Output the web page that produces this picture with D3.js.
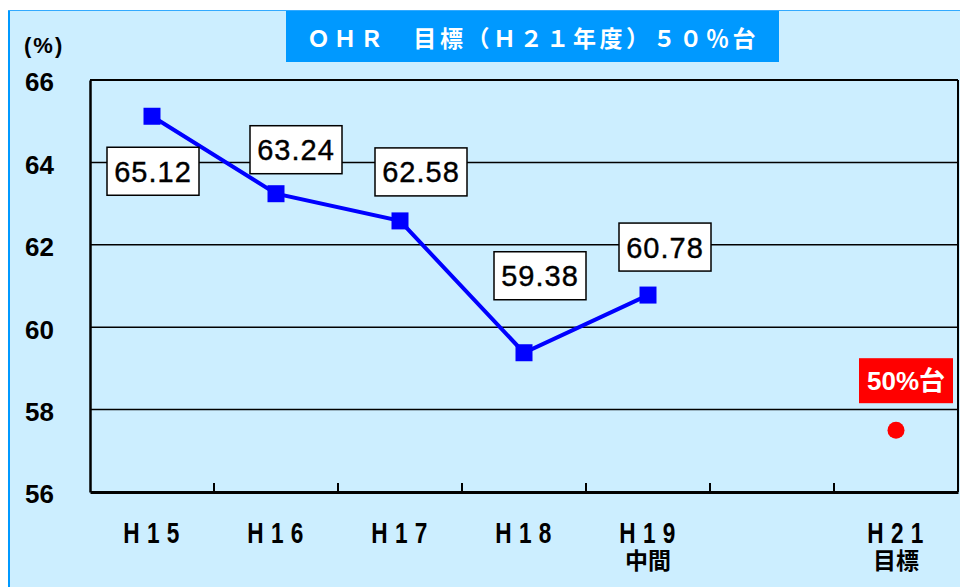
<!DOCTYPE html>
<html>
<head>
<meta charset="utf-8">
<script src="https://cdn.jsdelivr.net/npm/d3@7"></script>
<style>
  body { margin: 0; background: #fff; }
  svg { display: block; }
</style>
</head>
<body>
<div id="chart"></div>
<script>
// chart data
const categories = ['H15', 'H16', 'H17', 'H18', 'H19', 'H20', 'H21'];
const tickLabels = ['H15', 'H16', 'H17', 'H18', 'H19', '', 'H21'];
const subLabels = ['', '', '', '', '中間', '', '目標'];
const ohrYears = ['H15', 'H16', 'H17', 'H18', 'H19'];
const ohrValues = [65.12, 63.24, 62.58, 59.38, 60.78];
const targetYear = 'H21';
const targetValue = 57.5;
const targetLabel = '50%台';
const yTicks = [56, 58, 60, 62, 64, 66];
const titleText = 'ＯＨＲ　目標（Ｈ２１年度）５０％台';

// label box offsets from its point (pixels)
const labelOffsets = [[1, 55], [20, -44], [21, -49], [16, -77], [17, -48]];

const config = {
  width: 960,
  height: 587,
  plot: { left: 90, right: 958, top: 80, bottom: 492 },
  bg: '#cceeff',
  frame: '#0099ff',
  lineColor: '#0000ff',
  targetColor: '#ff0000',
  latin: '"Liberation Sans", Arial, sans-serif',
  cjk: '"Liberation Sans", "Noto Sans CJK JP", sans-serif'
};

const svg = d3.select('#chart').append('svg')
  .attr('width', config.width)
  .attr('height', config.height);

// outer panel
svg.append('rect')
  .attr('x', 9).attr('y', 10.5)
  .attr('width', 960).attr('height', 600)
  .attr('fill', config.bg);
svg.append('line')
  .attr('x1', 9).attr('x2', 9).attr('y1', 10).attr('y2', 587)
  .attr('stroke', config.frame).attr('stroke-width', 2);
svg.append('line')
  .attr('x1', 8).attr('x2', 960).attr('y1', 10.5).attr('y2', 10.5)
  .attr('stroke', '#33aaff').attr('stroke-width', 1);

// title
svg.append('rect')
  .attr('x', 286).attr('y', 11)
  .attr('width', 493).attr('height', 51)
  .attr('fill', config.frame);
svg.append('text')
  .attr('x', 533).attr('y', 37)
  .attr('text-anchor', 'middle')
  .attr('dominant-baseline', 'central')
  .style('font-family', '"Noto Sans CJK JP", sans-serif')
  .style('font-weight', 'bold')
  .style('font-size', '23px')
  .style('letter-spacing', '3.6px')
  .attr('fill', '#fff')
  .text(titleText);

const p = config.plot;

const x = d3.scaleBand()
  .domain(categories)
  .range([p.left, p.right]);

const y = d3.scaleLinear()
  .domain([56, 66])
  .range([p.bottom, p.top]);

// grid lines
svg.append('g')
  .selectAll('line')
  .data(yTicks.filter(t => t > 56))
  .enter()
  .append('line')
  .attr('x1', p.left).attr('x2', p.right)
  .attr('y1', d => y(d)).attr('y2', d => y(d))
  .attr('stroke', '#000')
  .attr('stroke-width', d => d === 66 ? 2 : 1.5);

// right border
svg.append('line')
  .attr('x1', p.right).attr('x2', p.right)
  .attr('y1', p.top).attr('y2', p.bottom)
  .attr('stroke', '#000').attr('stroke-width', 2);

// y axis
const yAxis = d3.axisLeft(y).tickValues(yTicks).tickSize(0).tickPadding(0);
const yG = svg.append('g')
  .attr('transform', `translate(${p.left},0)`)
  .call(yAxis);
yG.select('.domain').attr('stroke', '#000').attr('stroke-width', 2.5);
yG.selectAll('text')
  .attr('x', 25 - p.left)
  .attr('dy', '0.42em')
  .attr('text-anchor', 'start')
  .style('font-family', config.latin)
  .style('font-weight', 'bold')
  .style('font-size', '26px')
  .attr('fill', '#000');

svg.append('text')
  .attr('x', 24).attr('y', 53)
  .style('font-family', config.latin)
  .style('font-weight', 'bold')
  .style('font-size', '22px')
  .style('letter-spacing', '2px')
  .text('(%)');

// x axis
const xAxis = d3.axisBottom(x)
  .tickSize(0)
  .tickPadding(0)
  .tickFormat((d, i) => tickLabels[i]);
const xG = svg.append('g')
  .attr('transform', `translate(0,${p.bottom})`)
  .call(xAxis);
xG.select('.domain').attr('stroke', '#000').attr('stroke-width', 3);
// condensed look of the original labels
xG.selectAll('text')
  .attr('y', 51)
  .attr('dy', 0)
  .style('font-family', config.latin)
  .style('font-weight', 'bold')
  .style('font-size', '29px')
  .style('letter-spacing', '9.5px')
  .attr('transform', 'translate(3,0) scale(0.78,1)')
  .attr('fill', '#000');

// inner tick marks at category boundaries
xG.selectAll('.bound')
  .data(categories.slice(1))
  .enter()
  .append('line')
  .attr('class', 'bound')
  .attr('x1', d => x(d)).attr('x2', d => x(d))
  .attr('y1', 0).attr('y2', -9)
  .attr('stroke', '#000').attr('stroke-width', 2);

// sub labels
svg.append('g')
  .selectAll('text')
  .data(categories)
  .enter()
  .append('text')
  .attr('x', d => x(d) + x.bandwidth() / 2)
  .attr('y', 569)
  .attr('text-anchor', 'middle')
  .style('font-family', '"Noto Sans CJK JP", sans-serif')
  .style('font-weight', 'bold')
  .style('font-size', '23px')
  .text((d, i) => subLabels[i]);

// OHR line
const pts = ohrYears.map((d, i) => ({ year: d, value: ohrValues[i] }));
const cx = d => x(d.year) + x.bandwidth() / 2;

svg.append('path')
  .datum(pts)
  .attr('fill', 'none')
  .attr('stroke', config.lineColor)
  .attr('stroke-width', 4)
  .attr('d', d3.line().x(cx).y(d => y(d.value)));

svg.append('g')
  .selectAll('rect')
  .data(pts)
  .enter()
  .append('rect')
  .attr('x', d => cx(d) - 8.5)
  .attr('y', d => y(d.value) - 8.5)
  .attr('width', 17).attr('height', 17)
  .attr('fill', config.lineColor);

// value labels
const labels = svg.append('g')
  .selectAll('g')
  .data(pts)
  .enter()
  .append('g')
  .attr('transform', (d, i) => `translate(${cx(d) + labelOffsets[i][0]},${y(d.value) + labelOffsets[i][1]})`);
labels.append('rect')
  .attr('x', -46).attr('y', -24)
  .attr('width', 92).attr('height', 48)
  .attr('fill', '#fff')
  .attr('stroke', '#000')
  .attr('stroke-width', 1.5);
labels.append('text')
  .attr('text-anchor', 'middle')
  .attr('dy', '0.36em')
  .style('font-family', config.latin)
  .style('font-size', '29px')
  .style('letter-spacing', '1px')
  .style('stroke', '#000')
  .style('stroke-width', 0.4)
  .text(d => d.value.toFixed(2));

// target
const tx = x(targetYear) + x.bandwidth() / 2;
svg.append('circle')
  .attr('cx', tx).attr('cy', y(targetValue))
  .attr('r', 8.5)
  .attr('fill', config.targetColor);
svg.append('rect')
  .attr('x', tx - 37).attr('y', y(targetValue) - 72)
  .attr('width', 94).attr('height', 45)
  .attr('fill', config.targetColor);
svg.append('text')
  .attr('x', tx + 10).attr('y', y(targetValue) - 49.5)
  .attr('text-anchor', 'middle')
  .attr('dominant-baseline', 'central')
  .style('font-family', config.cjk)
  .style('font-weight', 'bold')
  .style('font-size', '26px')
  .attr('fill', '#fff')
  .text(targetLabel);
</script>
</body>
</html>
